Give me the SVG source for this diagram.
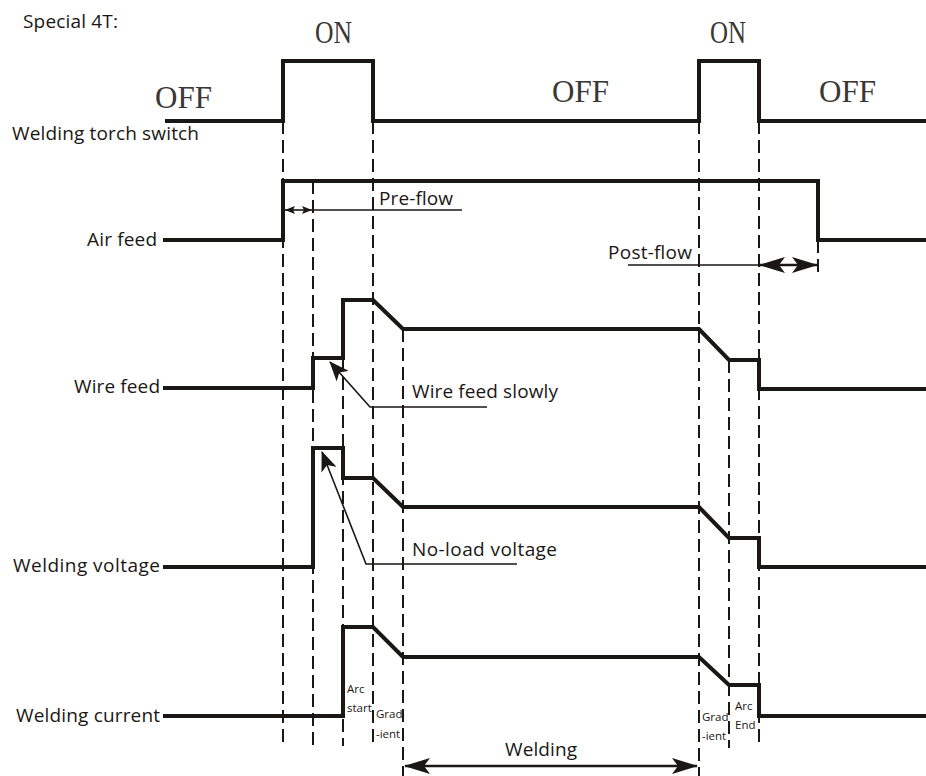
<svg xmlns="http://www.w3.org/2000/svg" width="926" height="776" viewBox="0 0 926 776">
<style>
.sig{fill:none;stroke:#1a1714;stroke-width:4;stroke-linejoin:miter;stroke-linecap:butt}
.dash{fill:none;stroke:#1a1714;stroke-width:2;stroke-dasharray:13 6}
.thin{fill:none;stroke:#1a1714;stroke-width:1.6}
.dim{fill:none;stroke:#1a1714;stroke-width:2.4}
.lbl{font-family:"Open Sans","Noto Sans",sans-serif;font-size:19px;fill:#1a1714}
.sm{font-family:"Open Sans","Noto Sans",sans-serif;font-size:11.5px;fill:#1a1714}
.st{font-family:"Liberation Serif",serif;font-size:31px;fill:#3a3734}
</style>
<defs>
<marker id="big" viewBox="0 0 26 16" refX="25" refY="8" markerWidth="26" markerHeight="16" markerUnits="userSpaceOnUse" orient="auto-start-reverse">
<path d="M0,0 L26,8 L0,16 L6,8 z" fill="#1a1714"/>
</marker>
<marker id="small" viewBox="0 0 10 8" refX="10" refY="4" markerWidth="10" markerHeight="8" markerUnits="userSpaceOnUse" orient="auto-start-reverse">
<path d="M0,0 L10,4 L0,8 L2,4 z" fill="#1a1714"/>
</marker>
<marker id="lead" viewBox="0 0 20 16" refX="19" refY="8" markerWidth="20" markerHeight="16" markerUnits="userSpaceOnUse" orient="auto">
<path d="M0,0 L20,8 L0,16 L5,8 z" fill="#1a1714"/>
</marker>
</defs>
<rect width="926" height="776" fill="#fff"/>

<text class="lbl" x="23" y="28" font-size="17" textLength="95">Special 4T:</text>

<g id="connectors">
<line class="dash" x1="283" y1="121" x2="283" y2="746"/>
<line class="dash" x1="313" y1="181" x2="313" y2="746"/>
<line class="dash" x1="343" y1="358" x2="343" y2="746"/>
<line class="dash" x1="373" y1="121" x2="373" y2="746"/>
<line class="dash" x1="403" y1="329" x2="403" y2="776"/>
<line class="dash" x1="699" y1="121" x2="699" y2="776"/>
<line class="dash" x1="729" y1="360" x2="729" y2="748"/>
<line class="dash" x1="759" y1="121" x2="759" y2="748"/>
<line class="dash" x1="818" y1="240" x2="818" y2="278"/>
<line class="thin" x1="313" y1="210" x2="462" y2="210"/>
<line class="thin" x1="285" y1="210" x2="312" y2="210" marker-start="url(#small)" marker-end="url(#small)"/>
<line class="thin" x1="628" y1="265" x2="759" y2="265"/>
<line class="dim" x1="760" y1="265" x2="817" y2="265" marker-start="url(#big)" marker-end="url(#big)"/>
<line class="dim" x1="405" y1="766" x2="697" y2="766" marker-start="url(#big)" marker-end="url(#big)"/>
<polyline class="thin" points="487,407 370,407 330,362" marker-end="url(#lead)"/>
<polyline class="thin" points="517,564 366,564 322,452" marker-end="url(#lead)"/>
</g>

<g id="torch-switch">
<text class="lbl" x="12" y="140" textLength="187">Welding torch switch</text>
<polyline class="sig" points="165,121 283,121 283,61 373,61 373,121 699,121 699,61 759,61 759,121 926,121"/>
<text class="st" x="155" y="108" textLength="57" lengthAdjust="spacingAndGlyphs">OFF</text>
<text class="st" x="315" y="43" textLength="37" lengthAdjust="spacingAndGlyphs">ON</text>
<text class="st" x="552" y="102" textLength="57" lengthAdjust="spacingAndGlyphs">OFF</text>
<text class="st" x="710" y="43" textLength="36" lengthAdjust="spacingAndGlyphs">ON</text>
<text class="st" x="819" y="102" textLength="57" lengthAdjust="spacingAndGlyphs">OFF</text>
</g>

<g id="air-feed">
<text class="lbl" x="87" y="246" textLength="70">Air feed</text>
<polyline class="sig" points="163,240 283,240 283,181 818,181 818,240 926,240"/>
<text class="lbl" x="379" y="205" textLength="74">Pre-flow</text>
<text class="lbl" x="608" y="259" textLength="84">Post-flow</text>
</g>

<g id="wire-feed">
<text class="lbl" x="74" y="393" textLength="86">Wire feed</text>
<polyline class="sig" points="163,388 313,388 313,358 343,358 343,300 373,300 403,329 699,329 729,360 759,360 759,389 926,389"/>
<text class="lbl" x="412" y="398" textLength="146">Wire feed slowly</text>
</g>

<g id="welding-voltage">
<text class="lbl" x="13" y="572" textLength="147">Welding voltage</text>
<polyline class="sig" points="163,567 313,567 313,448 343,448 343,478 373,478 403,507 699,507 729,538 759,538 759,567 926,567"/>
<text class="lbl" x="412" y="556" textLength="145">No-load voltage</text>
</g>

<g id="welding-current">
<text class="lbl" x="16" y="722" textLength="144">Welding current</text>
<polyline class="sig" points="163,716 343,716 343,627 373,627 403,657 699,657 729,685 759,685 759,716 926,716"/>
<text class="sm" x="347" y="693">Arc</text>
<text class="sm" x="347" y="712">start</text>
<text class="sm" x="376" y="718">Grad</text>
<text class="sm" x="376" y="738">-ient</text>
<text class="sm" x="702" y="721">Grad</text>
<text class="sm" x="702" y="740">-ient</text>
<text class="sm" x="735" y="710">Arc</text>
<text class="sm" x="735" y="729">End</text>
<text class="lbl" x="505" y="756" textLength="72">Welding</text>
</g>
</svg>
